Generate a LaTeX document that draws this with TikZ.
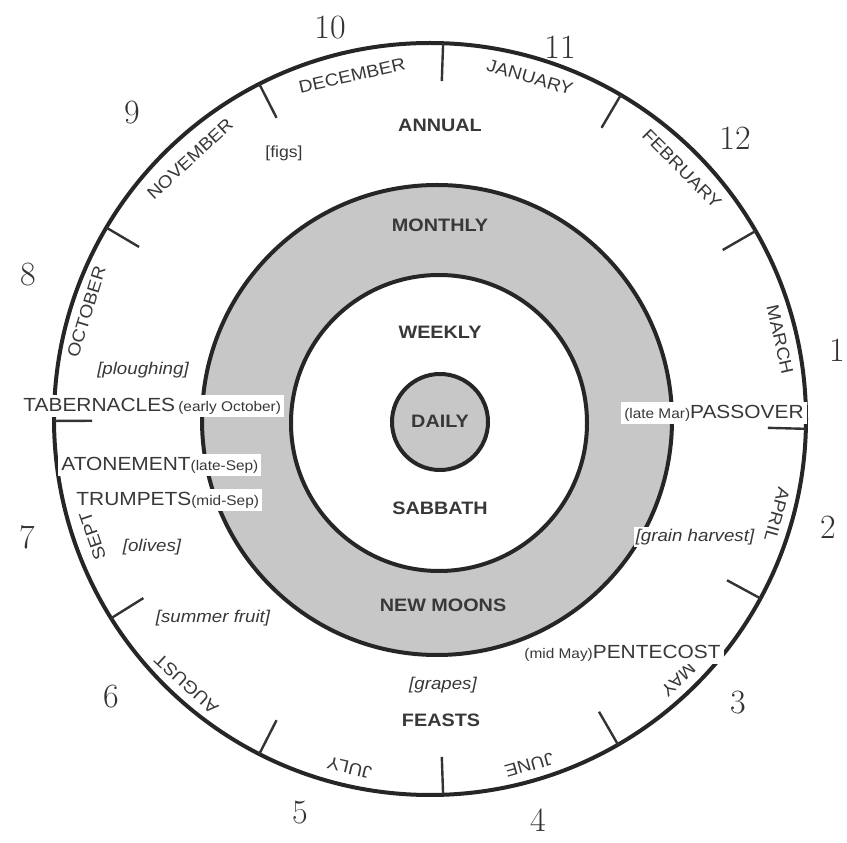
\documentclass[tikz,border=0pt]{standalone}
\usepackage{fontspec}
\newfontfamily\helv{Liberation Sans}[FakeStretch=1.1]
\usetikzlibrary{calc}
\usepackage{xcolor}
\definecolor{ink}{gray}{0.22}
\definecolor{ringgray}{gray}{0.78}

\tikzset{
  ring/.style={line width=2pt, draw=black!85},
  tickmark/.style={line width=1.2pt, draw=black!80},
  month/.style={font=\helv\fontsize{8.7}{9}\selectfont, text=ink, inner sep=0pt},
  level/.style={font=\helv\bfseries\fontsize{9}{10}\selectfont, text=ink},
  feast/.style={font=\helv\fontsize{9.5}{11}\selectfont, fill=white, inner sep=1.5pt, text=ink},
  crop/.style={font=\helv\itshape\fontsize{8.5}{10}\selectfont, text=ink},
  hand/.style={font=\fontsize{17}{18}\selectfont, text=black!80},
}
\newcommand{\when}[1]{{\fontsize{7}{8}\selectfont #1}}

\begin{document}
\begin{tikzpicture}[x=0.5pt,y=0.5pt]
			\useasboundingbox (0,0) rectangle (847,842);
			\coordinate (O) at (430,423);
			
			% Rings
			\draw[ring] (O) circle (376);
			\draw[ring, fill=ringgray] (437,422) circle (235);
			\draw[ring, fill=white] (439,419) circle (148);
			\draw[ring, fill=ringgray] (440,420) circle (48);
			
			% Month ticks
			\foreach \a in {88,59.5,30,-1.5,-28.5,-60,-88,-117,-148,180.3,149.4,117}
				\draw[tickmark] ($(O)+(\a:376)$) -- ($(O)+(\a:338)$);
			
			% Month names
			\foreach \a/\r/\m in {102.8/352/DECEMBER,73.7/356/JANUARY,132.7/354/NOVEMBER,
				44.8/355/FEBRUARY,162.7/360/OCTOBER,12.8/359/MARCH,199.1/357/SEPT,
				-15.4/360/APRIL,-132.6/360/AUGUST,-46.4/360/MAY,-103/358/JULY,-74/360/JUNE}
				\node[month, rotate=\a-90] (m-\m) at ($(O)+(\a:\r)$) {\m};
			
			% Levels
			\node[level] (annual)  at (440,717) {ANNUAL};
			\node[level] (monthly) at (440,617) {MONTHLY};
			\node[level] (weekly)  at (440,510) {WEEKLY};
			\node[level] (daily)   at (440,421) {DAILY};
			\node[level] (sabbath) at (440,334) {SABBATH};
			\node[level] (moons)   at (443,237) {NEW MOONS};
			\node[level] (feasts)  at (441,122) {FEASTS};
			
			% Harvests
			\node[crop] (grapes)    at (443,157) {[grapes]};
			\node[crop, font=\helv\fontsize{8}{9}\selectfont] (figs) at (284,689) {[figs]};
			\node[crop] (ploughing) at (143,472) {[ploughing]};
			\node[crop] (olives)    at (152,295) {[olives]};
			\node[crop] (fruit)     at (213,224) {[summer fruit]};
			\node[crop, fill=white, inner sep=1pt] (grain) at (695,305) {[grain harvest]};
			
			% Feasts
			\node[feast, anchor=west] (tabernacles) at (20,436) {TABERNACLES\,\when{(early October)}};
			\node[feast, anchor=west] (atonement)   at (58,377) {ATONEMENT\when{(late-Sep)}};
			\node[feast, anchor=west] (trumpets)    at (73,342) {TRUMPETS\when{(mid-Sep)}};
			\node[feast, anchor=east] (passover)    at (807,429) {\when{(late Mar)}PASSOVER};
			\node[feast, anchor=east] (pentecost)   at (724,189) {\when{(mid May)}PENTECOST};
			
			% Handwritten numbers
			\node[hand] (n1)  at (837,492) {1};
			\node[hand] (n2)  at (828,315) {2};
			\node[hand] (n3)  at (738,139) {3};
			\node[hand] (n4)  at (538,22)  {4};
			\node[hand] (n5)  at (300,29)  {5};
			\node[hand] (n6)  at (111,145) {6};
			\node[hand] (n7)  at (27,305)  {7};
			\node[hand] (n8)  at (28,567)  {8};
			\node[hand] (n9)  at (132,729) {9};
			\node[hand] (n10) at (330,814) {10};
			\node[hand] (n11) at (560,795) {11};
			\node[hand] (n12) at (735,704) {12};
			
		\end{tikzpicture}
\end{document}
